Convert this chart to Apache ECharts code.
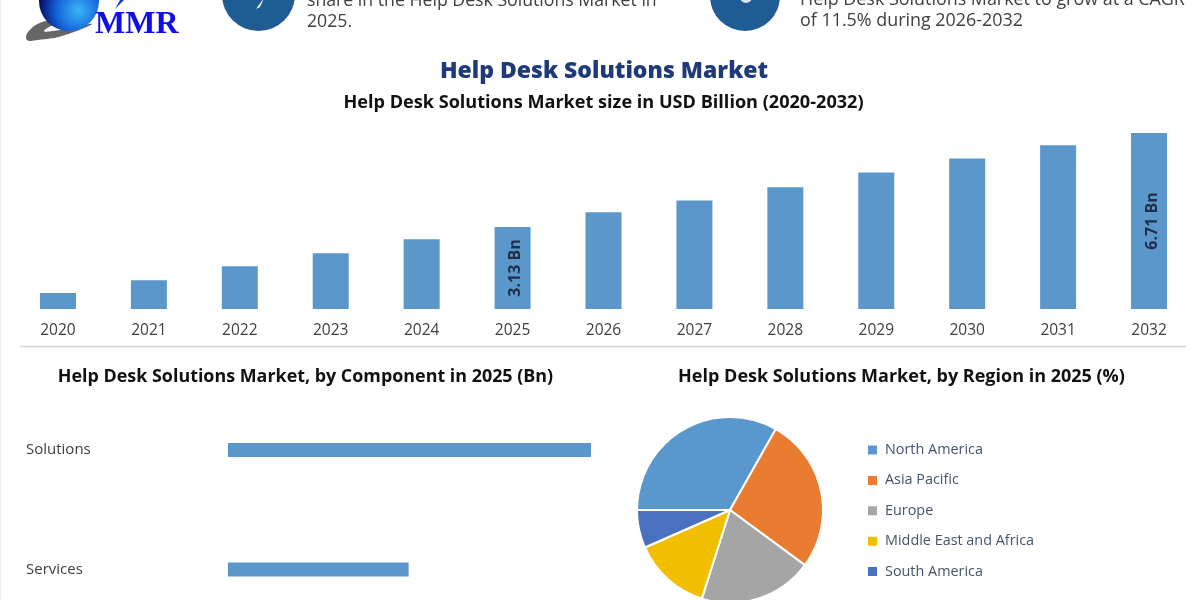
<!DOCTYPE html>
<html>
<head>
<meta charset="utf-8">
<style>html,body{margin:0;padding:0;background:#fff}#main{width:1200px;height:600px}</style>
<script src="https://cdn.jsdelivr.net/npm/echarts@6/dist/echarts.min.js"></script>
</head>
<body>
<div id="main"></div>
<script>
var years = ['2020','2021','2022','2023','2024','2025','2026','2027','2028','2029','2030','2031','2032'];
var marketSize = [0.61,1.10,1.63,2.13,2.66,3.13,3.69,4.14,4.64,5.20,5.74,6.24,6.71];
var barNotes = {5:'3.13 Bn',12:'6.71 Bn'};
var components = ['Solutions','Services'];
var componentValues = [2.09,1.04];
var regions = ['North America','Asia Pacific','Europe','Middle East and Africa','South America'];
var regionShares = [33.2,26.9,19.8,13.5,6.6];
var regionColors = ['#5a97cc','#e97c30','#a5a5a5','#f2bf00','#4a70c0'];

var font = '"Open Sans","Noto Sans",sans-serif';
var myChart = echarts.init(document.getElementById('main'));

var pieData = [];
for (var i = 0; i < regions.length; i++) {
  pieData.push({name: regions[i], value: regionShares[i], itemStyle: {color: regionColors[i]}});
}

var option = {
  animation: false,
  backgroundColor: '#fff',
  textStyle: {fontFamily: font},
  grid: [
    {left: 12.5, right: 5.5, top: 133, height: 176},
    // boundaryGap off: the two rows sit on the grid's top and bottom edge
    {left: 228, width: 363, top: 450, height: 119.5}
  ],
  xAxis: [
    {type: 'category', gridIndex: 0, data: years,
      axisLine: {show: false}, axisTick: {show: false},
      axisLabel: {color: '#404040', fontSize: 15.5, margin: 14, fontFamily: font}},
    {type: 'value', gridIndex: 1, min: 0, max: 2.09, show: false}
  ],
  yAxis: [
    {type: 'value', gridIndex: 0, min: 0, max: 6.71, show: false},
    {type: 'category', gridIndex: 1, inverse: true, boundaryGap: false, data: components,
      axisLine: {show: false}, axisTick: {show: false},
      axisLabel: {color: '#404040', fontSize: 15, align: 'left', margin: 202, fontFamily: font}}
  ],
  legend: {
    orient: 'vertical', left: 861, top: 438, itemWidth: 11, itemHeight: 11,
    itemGap: 16.4, icon: 'rect', selectedMode: false, data: regions,
    textStyle: {color: '#44546a', fontSize: 14.4, fontFamily: font, padding: [0,0,0,2]}
  },
  series: [
    {type: 'bar', xAxisIndex: 0, yAxisIndex: 0, data: marketSize, barWidth: 36,
      itemStyle: {color: '#5b97cb'},
      label: {show: true, position: 'inside', rotate: 90, offset: [0, 3],
        color: '#1f2f4a', fontSize: 16, fontWeight: 'bold', fontFamily: font,
        formatter: function (p) { return barNotes[p.dataIndex] || ''; }}},
    {type: 'bar', xAxisIndex: 1, yAxisIndex: 1, data: componentValues, barWidth: 14, clip: false,
      itemStyle: {color: '#5b97cb'}},
    {type: 'pie', center: [730, 510], radius: 93, startAngle: 180, clockwise: true,
      data: pieData, label: {show: false}, labelLine: {show: false},
      itemStyle: {borderColor: '#fff', borderWidth: 2}}
  ],
  graphic: [
    // header
    {type: 'circle', shape: {cx: 258.5, cy: -5.5, r: 36.5}, style: {fill: '#1f5c94'}},
    {type: 'circle', shape: {cx: 745, cy: -4, r: 35}, style: {fill: '#1f5c94'}},
    {type: 'polygon', shape: {points: [[264,-2],[260,7],[256,9]]}, style: {fill: '#fff'}},
    {type: 'ring', shape: {cx: 746, cy: -3, r: 6, r0: 3}, style: {fill: '#dfe8f2'}},
    {type: 'text', style: {x: 307, y: 1, text: 'share in the Help Desk Solutions Market in', font: '17.7px ' + font, fill: '#404040', textVerticalAlign: 'middle'}},
    {type: 'text', style: {x: 307, y: 22, text: '2025.', font: '17.7px ' + font, fill: '#404040', textVerticalAlign: 'middle'}},
    {type: 'text', style: {x: 800, y: 0, text: 'Help Desk Solutions Market to grow at a CAGR', font: '17.9px ' + font, fill: '#404040', textVerticalAlign: 'middle'}},
    {type: 'text', style: {x: 800, y: 21, text: 'of 11.5% during 2026-2032', font: '17.9px ' + font, fill: '#404040', textVerticalAlign: 'middle'}},
    // logo
    {type: 'polygon', shape: {points: [[60,20],[42,22],[28,32],[27,40],[38,40],[62,36],[92,24],[60,30],[44,31]], smooth: 0.4}, style: {fill: '#666'}},
    {type: 'circle', shape: {cx: 69, cy: 1, r: 30},
      style: {fill: new echarts.graphic.RadialGradient(0.66, 0.66, 0.66, [{offset: 0, color: '#39b6f4'}, {offset: 0.55, color: '#1565dc'}, {offset: 1, color: '#040c66'}])}},
    {type: 'polygon', shape: {points: [[115,9],[120,0],[124,0]]}, style: {fill: '#1a3fd0'}},
    {type: 'text', style: {x: 95, y: 25, text: 'MMR', font: 'bold 32px "Liberation Serif",serif', fill: '#1010e6', textVerticalAlign: 'middle'}},
    // titles
    {type: 'text', style: {x: 604, y: 71, text: 'Help Desk Solutions Market', font: '800 23px ' + font, fill: '#1f3a7a', textAlign: 'center', textVerticalAlign: 'middle'}},
    {type: 'text', style: {x: 603.5, y: 103, text: 'Help Desk Solutions Market size in USD Billion (2020-2032)', font: 'bold 18.1px ' + font, fill: '#111', textAlign: 'center', textVerticalAlign: 'middle'}},
    {type: 'text', style: {x: 305.5, y: 377, text: 'Help Desk Solutions Market, by Component in 2025 (Bn)', font: 'bold 17.9px ' + font, fill: '#111', textAlign: 'center', textVerticalAlign: 'middle'}},
    {type: 'text', style: {x: 901.5, y: 377, text: 'Help Desk Solutions Market, by Region in 2025 (%)', font: 'bold 18px ' + font, fill: '#111', textAlign: 'center', textVerticalAlign: 'middle'}},
    {type: 'line', shape: {x1: 20, y1: 346.5, x2: 1186, y2: 346.5}, style: {stroke: '#d4d4d4', lineWidth: 1.5}},
    {type: 'line', shape: {x1: 0.5, y1: 0, x2: 0.5, y2: 600}, style: {stroke: '#eeeeee', lineWidth: 1}}
  ]
};
myChart.setOption(option);
</script>
</body>
</html>
